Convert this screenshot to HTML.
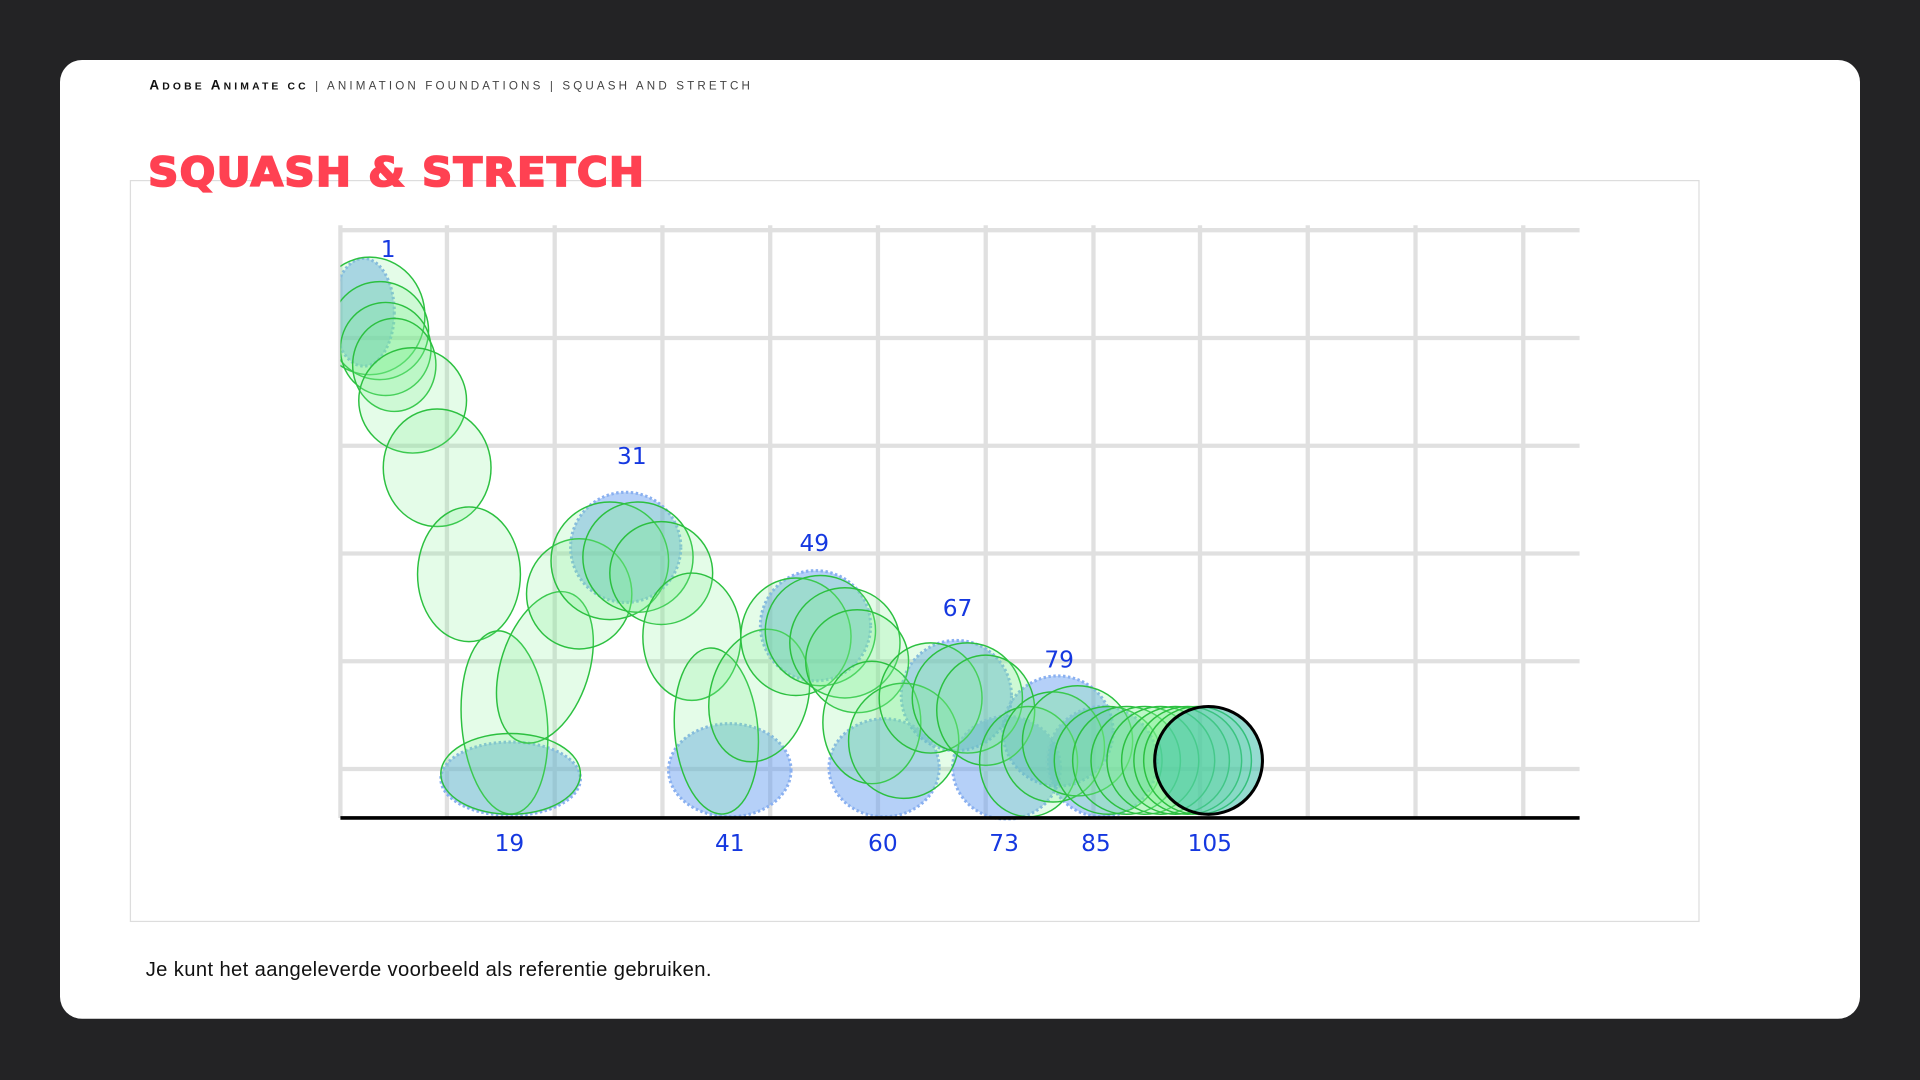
<!DOCTYPE html>
<html><head><meta charset="utf-8"><style>
html,body{margin:0;padding:0;background:#232325;width:1920px;height:1080px;overflow:hidden}
svg{display:block}
</style></head><body>
<svg width="1920" height="1080" viewBox="0 0 1568 882" xmlns="http://www.w3.org/2000/svg">
<defs><clipPath id="c"><rect x="278" y="150" width="1100" height="520"/></clipPath></defs>
<rect width="1568" height="882" fill="#232325"/>
<rect x="49" y="49" width="1470" height="783" rx="18" fill="#fff"/>
<text x="122" y="73" font-family="Liberation Sans, sans-serif" font-size="10" letter-spacing="1.6" textLength="492" lengthAdjust="spacing"><tspan fill="#111" font-weight="bold" font-size="11">A</tspan><tspan fill="#111" font-weight="bold" font-size="8.5">DOBE </tspan><tspan fill="#111" font-weight="bold" font-size="11">A</tspan><tspan fill="#111" font-weight="bold" font-size="8.5">NIMATE CC</tspan><tspan fill="#444" font-size="9.5"> | ANIMATION FOUNDATIONS | SQUASH AND STRETCH</tspan></text>
<rect x="106.5" y="147.5" width="1281" height="605" fill="none" stroke="#ddd" stroke-width="1"/>
<text x="121" y="152" font-family="DejaVu Sans, Liberation Sans, sans-serif" font-weight="900" font-size="33" fill="#ff4152" letter-spacing="1" textLength="406" lengthAdjust="spacingAndGlyphs" stroke="#ff4152" stroke-width="1.5">SQUASH &amp; STRETCH</text>
<g stroke="#e0e0e0" stroke-width="3.5">
<line x1="278" y1="188" x2="1290" y2="188"/><line x1="278" y1="276" x2="1290" y2="276"/><line x1="278" y1="364" x2="1290" y2="364"/><line x1="278" y1="452" x2="1290" y2="452"/><line x1="278" y1="540" x2="1290" y2="540"/><line x1="278" y1="628" x2="1290" y2="628"/>
<line x1="278" y1="184" x2="278" y2="668"/><line x1="365" y1="184" x2="365" y2="668"/><line x1="453" y1="184" x2="453" y2="668"/><line x1="541" y1="184" x2="541" y2="668"/><line x1="629" y1="184" x2="629" y2="668"/><line x1="717" y1="184" x2="717" y2="668"/><line x1="805" y1="184" x2="805" y2="668"/><line x1="893" y1="184" x2="893" y2="668"/><line x1="980" y1="184" x2="980" y2="668"/><line x1="1068" y1="184" x2="1068" y2="668"/><line x1="1156" y1="184" x2="1156" y2="668"/><line x1="1244" y1="184" x2="1244" y2="668"/>
</g>
<g clip-path="url(#c)">
<g fill="rgba(90,150,240,0.45)" stroke="#8ab0f0" stroke-width="2.5" stroke-dasharray="2 2">
<ellipse cx="297" cy="255" rx="25" ry="44"/>
<ellipse cx="511" cy="447" rx="45" ry="45"/>
<ellipse cx="666" cy="511" rx="45" ry="45"/>
<ellipse cx="781" cy="568" rx="45" ry="45"/>
<ellipse cx="864" cy="597" rx="45" ry="45"/>
<ellipse cx="417" cy="636" rx="57" ry="30"/>
<ellipse cx="596" cy="629" rx="50" ry="38"/>
<ellipse cx="722" cy="627" rx="45" ry="40"/>
<ellipse cx="822" cy="627" rx="44" ry="42"/>
<ellipse cx="900" cy="622" rx="45" ry="45"/>
</g>
<g fill="rgba(120,240,140,0.2)" stroke="#2cc040" stroke-width="1.2">
<ellipse cx="302" cy="258" rx="45" ry="48"/>
<ellipse cx="310" cy="270" rx="40" ry="40"/>
<ellipse cx="315" cy="285" rx="37" ry="38"/>
<ellipse cx="322" cy="298" rx="34" ry="38"/>
<ellipse cx="337" cy="327" rx="44" ry="43"/>
<ellipse cx="357" cy="382" rx="44" ry="48"/>
<ellipse cx="383" cy="469" rx="42" ry="55"/>
<ellipse cx="412" cy="590" rx="35" ry="75" transform="rotate(-5 412 590)"/>
<ellipse cx="445" cy="545" rx="36" ry="64" transform="rotate(18 445 545)"/>
<ellipse cx="417" cy="632" rx="57" ry="33"/>
<ellipse cx="473" cy="485" rx="43" ry="45"/>
<ellipse cx="498" cy="458" rx="48" ry="48"/>
<ellipse cx="521" cy="455" rx="45" ry="45"/>
<ellipse cx="540" cy="468" rx="42" ry="42"/>
<ellipse cx="565" cy="520" rx="40" ry="52"/>
<ellipse cx="585" cy="597" rx="34" ry="68" transform="rotate(-5 585 597)"/>
<ellipse cx="620" cy="568" rx="40" ry="55" transform="rotate(15 620 568)"/>
<ellipse cx="650" cy="520" rx="45" ry="48"/>
<ellipse cx="670" cy="515" rx="45" ry="45"/>
<ellipse cx="690" cy="525" rx="45" ry="45"/>
<ellipse cx="700" cy="540" rx="42" ry="42"/>
<ellipse cx="712" cy="590" rx="40" ry="50"/>
<ellipse cx="738" cy="605" rx="45" ry="47"/>
<ellipse cx="760" cy="570" rx="42" ry="45"/>
<ellipse cx="790" cy="570" rx="45" ry="45"/>
<ellipse cx="805" cy="580" rx="40" ry="45"/>
<ellipse cx="840" cy="622" rx="40" ry="45"/>
<ellipse cx="860" cy="610" rx="42" ry="45"/>
<ellipse cx="880" cy="605" rx="45" ry="45"/>
<ellipse cx="905" cy="621" rx="44" ry="44"/>
<ellipse cx="920" cy="621" rx="44" ry="44"/>
<ellipse cx="935" cy="621" rx="44" ry="44"/>
<ellipse cx="948" cy="621" rx="44" ry="44"/>
<ellipse cx="960" cy="621" rx="44" ry="44"/>
<ellipse cx="970" cy="621" rx="44" ry="44"/>
<ellipse cx="978" cy="621" rx="44" ry="44"/>
</g>
<ellipse cx="987" cy="621" rx="44" ry="44" fill="rgba(60,190,170,0.55)" stroke="#000" stroke-width="2.5"/>
</g>
<line x1="278" y1="668" x2="1290" y2="668" stroke="#000" stroke-width="3"/>
<g font-family="DejaVu Sans, Liberation Sans, sans-serif" font-size="19" fill="#1538e0" text-anchor="middle">
<text x="317" y="210">1</text><text x="516" y="379">31</text><text x="665" y="450">49</text><text x="782" y="503">67</text><text x="865" y="545">79</text>
<text x="416" y="695">19</text><text x="596" y="695">41</text><text x="721" y="695">60</text><text x="820" y="695">73</text><text x="895" y="695">85</text><text x="988" y="695">105</text>
</g>
<text x="119" y="797" font-family="Liberation Sans, sans-serif" font-size="16.5" fill="#111" textLength="462" lengthAdjust="spacing">Je kunt het aangeleverde voorbeeld als referentie gebruiken.</text>
</svg>
</body></html>
